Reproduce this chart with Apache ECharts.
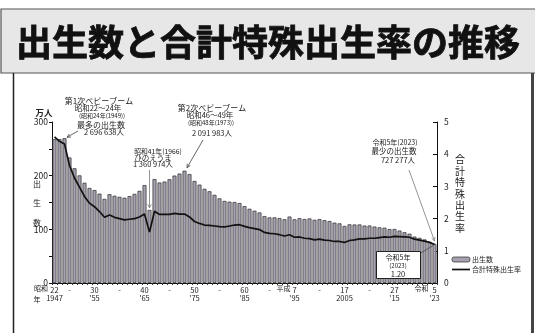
<!DOCTYPE html>
<html><head><meta charset="utf-8">
<script src="https://cdn.jsdelivr.net/npm/echarts@6/dist/echarts.min.js"></script>
<style>html,body{margin:0;padding:0;background:#fff}#c{width:535px;height:333px}</style>
</head><body><div id="c"></div>
<script>
const years = ['1947','1948','1949','1950','1951','1952','1953','1954','1955','1956','1957','1958','1959','1960','1961','1962','1963','1964','1965','1966','1967','1968','1969','1970','1971','1972','1973','1974','1975','1976','1977','1978','1979','1980','1981','1982','1983','1984','1985','1986','1987','1988','1989','1990','1991','1992','1993','1994','1995','1996','1997','1998','1999','2000','2001','2002','2003','2004','2005','2006','2007','2008','2009','2010','2011','2012','2013','2014','2015','2016','2017','2018','2019','2020','2021','2022','2023'];
// 出生数（万人）
const births = [267.9,268.2,269.7,233.8,213.8,200.5,186.8,177.0,173.1,166.5,156.7,165.4,162.6,160.6,158.9,161.9,166.0,171.7,182.4,136.1,193.6,187.2,189.0,193.4,200.1,203.9,209.2,203.0,190.1,183.3,175.5,170.9,164.3,157.7,152.9,151.5,150.9,149.0,143.2,138.3,134.7,131.4,124.7,122.2,122.3,120.9,118.8,123.8,118.7,120.7,119.2,120.3,117.8,119.1,117.1,115.4,112.4,111.1,106.3,109.3,109.0,109.1,107.0,107.1,105.1,103.7,103.0,100.4,100.6,97.7,94.6,91.8,86.5,84.1,81.2,77.1,72.7];
// 合計特殊出生率
const tfr = [4.54,4.40,4.32,3.65,3.26,2.98,2.69,2.48,2.37,2.22,2.04,2.11,2.04,2.00,1.96,1.98,2.00,2.05,2.14,1.58,2.23,2.13,2.13,2.13,2.16,2.14,2.14,2.05,1.91,1.85,1.80,1.79,1.77,1.75,1.74,1.77,1.80,1.81,1.76,1.72,1.69,1.66,1.57,1.54,1.53,1.50,1.46,1.50,1.42,1.43,1.39,1.38,1.34,1.36,1.33,1.32,1.29,1.29,1.26,1.32,1.34,1.37,1.37,1.39,1.39,1.41,1.43,1.42,1.45,1.44,1.43,1.42,1.36,1.33,1.30,1.26,1.20];
const tickYears = ['1947','1950','1955','1960','1965','1970','1975','1980','1985','1990','1995','2000','2005','2010','2015','2023'];
const tickRow1 = ['22','-','30','-','40','-','50','-','60','-','7','-','17','-','27','5'];
const tickRow2 = ['1947','',"'55",'',"'65",'',"'75",'',"'85",'',"'95",'','2005','',"'15","'23"];
const leftTicks = [0,100,200,300];

const F = '"Noto Sans CJK JP", "Noto Sans", sans-serif';
const BAR_FILL = '#a7a0b0', BAR_EDGE = '#2b2b2b';
const chart = echarts.init(document.getElementById('c'), null, {renderer:'canvas'});
const option = {
  animation:false,
  backgroundColor:'#fff',
  textStyle:{fontFamily:F},
  grid:{left:52,right:98,top:122,bottom:50,containLabel:false},
  xAxis:{
    type:'category', data:years, boundaryGap:true,
    axisLine:{lineStyle:{color:'#111',width:1}},
    axisTick:{show:true,interval:0,length:2,lineStyle:{color:'#333'}},
    axisLabel:{interval:0,fontSize:7.5,lineHeight:8,margin:3,color:'#222',fontFamily:F,
      formatter:function(v){const i=tickYears.indexOf(v); if(i<0) return ''; return tickRow1[i]+'\n'+tickRow2[i];}}
  },
  yAxis:[
    {type:'value',min:0,max:300,interval:50,
     axisLine:{show:true,lineStyle:{color:'#111'}},
     axisTick:{show:true,length:3,lineStyle:{color:'#111'}},
     splitLine:{show:false},
     axisLabel:{fontSize:8.5,margin:4,color:'#222',fontFamily:F,
       formatter:function(v){return leftTicks.indexOf(v)>=0?String(v):'';}}},
    {type:'value',min:0,max:5,interval:1,position:'right',
     axisLine:{show:true,lineStyle:{color:'#111'}},
     axisTick:{show:true,inside:true,length:4,lineStyle:{color:'#111'}},
     splitLine:{show:false},
     axisLabel:{fontSize:8.5,margin:7,color:'#222',fontFamily:F}}
  ],
  series:[
    {name:'出生数',type:'bar',data:births,yAxisIndex:0,barCategoryGap:'22%',
     itemStyle:{color:BAR_FILL,borderColor:BAR_EDGE,borderWidth:0.7}},
    {name:'合計特殊出生率',type:'line',data:tfr,yAxisIndex:1,symbol:'none',z:5,
     lineStyle:{color:'#111',width:1.7}}
  ]
};
chart.setOption(option);

function bp(yr){return chart.convertToPixel({seriesIndex:0},[yr,births[years.indexOf(yr)]]);}
function lp(yr){return chart.convertToPixel({seriesIndex:1},[yr,tfr[years.indexOf(yr)]]);}
function txt(x,y,s,size,extra){return Object.assign({type:'text',x:x,y:y,z:20,style:{text:s,fontSize:size||7.5,fontFamily:F,fill:'#222',align:'center',verticalAlign:'middle'}},extra||{});}
function arrow(x1,y1,x2,y2,color){
  const a=Math.atan2(y2-y1,x2-x1), L=4, w=0.45;
  return [
    {type:'line',z:20,shape:{x1:x1,y1:y1,x2:x2,y2:y2},style:{stroke:color,lineWidth:0.9}},
    {type:'polyline',z:20,shape:{points:[[x2-L*Math.cos(a-w),y2-L*Math.sin(a-w)],[x2,y2],[x2-L*Math.cos(a+w),y2-L*Math.sin(a+w)]]},style:{stroke:color,lineWidth:0.9,fill:null}}
  ];
}
const p49=bp('1949'), p66=bp('1966'), p73=bp('1973'), p23=bp('2023'), l23=lp('2023');
const g=[
  {type:'rect',z:1,shape:{x:1,y:9,width:545,height:64},style:{fill:'#e7e7e7',stroke:'#555',lineWidth:1.2}},
  {type:'line',z:1,shape:{x1:13.5,y1:73,x2:13.5,y2:340},style:{stroke:'#222',lineWidth:1.5}},
  {type:'line',z:1,shape:{x1:532.5,y1:73,x2:532.5,y2:340},style:{stroke:'#444',lineWidth:3}},
  {type:'text',x:268,y:42,z:10,style:{text:'出生数と合計特殊出生率の推移',fontSize:36,fontWeight:'bold',fontFamily:F,fill:'#111',stroke:'#111',lineWidth:0.8,align:'center',verticalAlign:'middle'}},
  {type:'text',x:44,y:113,z:10,style:{text:'万人',fontSize:8.5,fontWeight:'bold',fontFamily:F,fill:'#222',align:'center',verticalAlign:'middle'}},
  {type:'text',x:37,y:174,z:10,style:{text:'出\n生\n数',fontSize:8,lineHeight:19.5,fontFamily:F,fill:'#222',align:'center',verticalAlign:'top'}},
  {type:'text',x:460,y:154,z:10,style:{text:'合\n計\n特\n殊\n出\n生\n率',fontSize:10,lineHeight:11.4,fontFamily:F,fill:'#222',align:'center',verticalAlign:'top'}},
  txt(41,288,'昭和',7),
  txt(37,299,'年',7),
  // legend
  {type:'rect',z:10,shape:{x:452,y:257,width:18,height:5,r:2},style:{fill:BAR_FILL,stroke:BAR_EDGE,lineWidth:0.7}},
  {type:'text',x:472,y:259.5,z:10,style:{text:'出生数',fontSize:7,fontFamily:F,fill:'#222',align:'left',verticalAlign:'middle'}},
  {type:'line',z:10,shape:{x1:452,y1:269.5,x2:470,y2:269.5},style:{stroke:'#111',lineWidth:1.7}},
  {type:'text',x:472,y:269.5,z:10,style:{text:'合計特殊出生率',fontSize:7,fontFamily:F,fill:'#222',align:'left',verticalAlign:'middle'}},
  // 1st baby boom
  txt(99,101,'第1次ベビーブーム',8),
  txt(98,108.5,'昭和22～24年',7.5),
  txt(102,116,'(昭和24年(1949))',6),
  txt(101,124.5,'最多の出生数',8),
  txt(104,132,'2 696 638人',7.5),
  ...arrow(78,131,p49[0]+2.5,p49[1]-1,'#555'),
  // hinoeuma
  txt(158,151,'昭和41年(1966)',6.8),
  txt(153,158,'ひのえうま',7.5),
  txt(153,164.5,'1 360 974人',7.5),
  ...arrow(p66[0],170,p66[0],p66[1]-2,'#888'),
  // 2nd baby boom
  txt(212,108,'第2次ベビーブーム',8),
  txt(210,115.5,'昭和46～49年',7.5),
  txt(211,123,'(昭和48年(1973))',6),
  txt(212,133,'2 091 983人',7.5),
  ...arrow(203,140,p73[0]+2.5,p73[1]-3,'#555'),
  // 2023 min births
  txt(395,142,'令和5年(2023)',7),
  txt(394,151.5,'最少の出生数',7.5),
  txt(398,160,'727 277人',7.5),
  ...arrow(409,170,p23[0],p23[1]-3,'#888'),
  // TFR box
  {type:'line',z:20,shape:{x1:419,y1:254,x2:l23[0]-1,y2:l23[1]+1},style:{stroke:'#555',lineWidth:0.9}},
  {type:'rect',z:21,shape:{x:376.5,y:251.5,width:44,height:27},style:{fill:'#fff',stroke:'#222',lineWidth:1}},
  txt(398,257,'令和5年',7,{z:22}),
  txt(398,265.5,'(2023)',6,{z:22}),
  txt(398,274,'1.20',7.5,{z:22})
];
const p95=chart.convertToPixel({seriesIndex:0},['1995',0]);
const p23b=chart.convertToPixel({seriesIndex:0},['2023',0]);
g.push(txt(p95[0]-11,288,'平成',7));
g.push(txt(p23b[0]-13,288,'令和',7));
chart.setOption({graphic:g});
</script></body></html>
